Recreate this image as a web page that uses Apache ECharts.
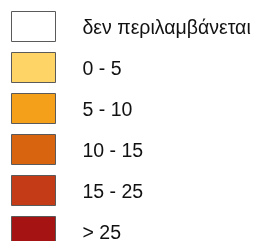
<!DOCTYPE html>
<html>
<head>
<meta charset="utf-8">
<script src="https://cdn.jsdelivr.net/npm/echarts@6/dist/echarts.min.js"></script>
<style>
    html, body { margin: 0; padding: 0; background: #fff; }
    #chart { width: 264px; height: 241px; }
</style>
</head>
<body>
<div id="chart"></div>
<script>
// legend classes
const classLabels = ['δεν περιλαμβάνεται', '0 - 5', '5 - 10', '10 - 15', '15 - 25', '> 25'];
const classColors = ['#ffffff', '#fed466', '#f5a01b', '#d96410', '#c33c17', '#a51413'];

const chart = echarts.init(document.getElementById('chart'), null, { renderer: 'canvas' });

const option = {
    animation: false,
    backgroundColor: '#ffffff',
    grid: { show: false, left: 0, right: 0, top: 0, bottom: 0 },
    xAxis: { type: 'category', show: false, data: [] },
    yAxis: { type: 'value', show: false },
    legend: {
        orient: 'vertical',
        left: 11,
        top: 11,
        height: 400,
        padding: 0,
        itemWidth: 44,
        itemHeight: 30,
        itemGap: 10,
        icon: 'rect',
        selectedMode: false,
        itemStyle: { borderColor: '#5a5a5a', borderWidth: 1 },
        formatter: name => '{t|' + name + '}',
        textStyle: {
            fontFamily: '"Liberation Sans", Arial, sans-serif',
            fontSize: 19.5,
            color: '#111',
            padding: [0, 0, 0, 22],
            rich: {
                t: {
                    fontFamily: '"Liberation Sans", Arial, sans-serif',
                    fontSize: 19.5,
                    color: '#111',
                    padding: [4, 0, 0, 0]
                }
            }
        },
        data: classLabels
    },
    series: classLabels.map((name, i) => ({
        name: name,
        type: 'bar',
        data: [],
        itemStyle: { color: classColors[i] }
    }))
};

chart.setOption(option);
</script>
</body>
</html>
